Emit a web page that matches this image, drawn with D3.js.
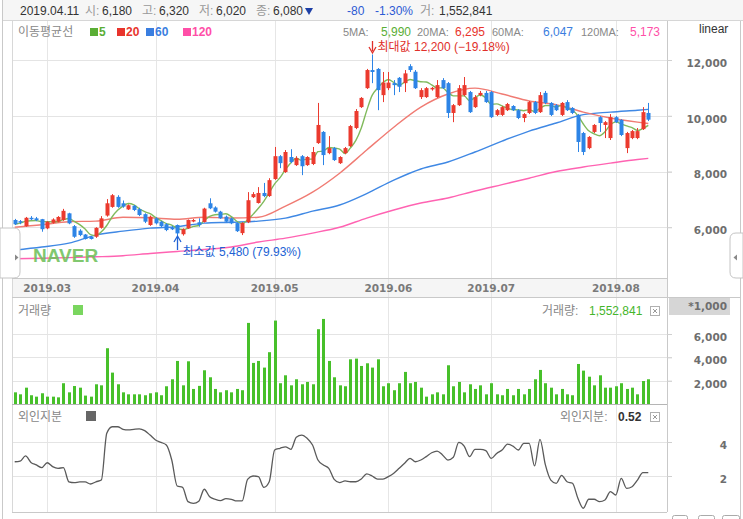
<!DOCTYPE html>
<html>
<head>
<meta charset="utf-8">
<script src="https://cdn.jsdelivr.net/npm/d3@7"></script>
<style>
body { margin: 0; background: #fff; }
svg { display: block; font-family: "Liberation Sans", "Noto Sans CJK KR", sans-serif; }
</style>
</head>
<body>
<svg id="chart" width="743" height="519"></svg>
<script>
// trading days shown on the chart, per month
const tradingDays = {
  "2019-02": [21, 22, 25, 26, 27, 28],
  "2019-03": [4, 5, 6, 7, 8, 11, 12, 13, 14, 15, 18, 19, 20, 21, 22, 25, 26, 27, 28, 29],
  "2019-04": [1, 2, 3, 4, 5, 8, 9, 10, 11, 12, 15, 16, 17, 18, 19, 22, 23, 24, 25, 26, 29, 30],
  "2019-05": [2, 3, 7, 8, 9, 10, 13, 14, 15, 16, 17, 20, 21, 22, 23, 24, 27, 28, 29, 30, 31],
  "2019-06": [3, 4, 5, 7, 10, 11, 12, 13, 14, 17, 18, 19, 20, 21, 24, 25, 26, 27, 28],
  "2019-07": [1, 2, 3, 4, 5, 8, 9, 10, 11, 12, 15, 16, 17, 18, 19, 22, 23, 24, 25, 26, 29, 30, 31],
  "2019-08": [1, 2, 5, 6, 7, 8, 9]
}
const dates = []
Object.entries(tradingDays).forEach(([m, days]) => days.forEach(d => dates.push(m + "-" + String(d).padStart(2, "0"))))

const open = [6260, 6220, 6040, 6340, 6320, 6290, 5960, 6160, 6200, 6260,
  6500, 6040, 5880, 5740, 5660, 5660, 5980, 6420, 6730, 7090,
  6860, 6640, 6770, 6650, 6470, 6080, 6320, 6200, 6110, 5980,
  6080, 5750, 5960, 6220, 6180, 6190, 6860, 6710, 6560, 6380,
  6320, 6150, 5790, 6180, 7080, 6870, 7230, 7120, 7730, 8550,
  7980, 8520, 8230, 8550, 8230, 8270, 9020, 9420, 8660, 8840,
  8300, 8660, 8910, 9560, 10310, 10990, 11640, 11680, 10740, 10990,
  11170, 11360, 11170, 11780, 11580, 10670, 10670, 10970, 10670, 11280,
  11170, 10100, 10380, 10740, 10850, 10310, 10740, 10820, 10850, 10030,
  10030, 10200, 10350, 10200, 9920, 10100, 10490, 10130, 10820, 10460,
  10380, 10030, 10490, 10280, 10030, 9380, 8840, 9420, 9950, 9670,
  9200, 9950, 9850, 8840, 9200, 9200, 9520, 10100]
const high = [6300, 6260, 6370, 6400, 6370, 6300, 6220, 6320, 6400, 6660,
  6520, 6080, 5930, 5760, 5690, 6000, 6400, 7010, 7190, 7150,
  6960, 6820, 6800, 6700, 6500, 6420, 6360, 6230, 6150, 6050,
  6100, 5960, 6280, 6300, 6320, 6700, 7040, 6750, 6590, 6420,
  6350, 6180, 6180, 7260, 7260, 7440, 7590, 7760, 8880, 8590,
  8770, 8800, 8550, 8590, 8550, 8880, 10460, 9450, 9270, 8880,
  8550, 8880, 9670, 10240, 10670, 11680, 12200, 11710, 11570, 11570,
  11280, 11390, 11640, 11850, 11640, 10990, 11030, 11030, 11280, 11350,
  11210, 10420, 11100, 11390, 10890, 10740, 10890, 10890, 10890, 10240,
  10350, 10460, 10380, 10240, 10100, 10530, 10530, 10850, 10890, 10490,
  10420, 10490, 10560, 10310, 10060, 9420, 9270, 9700, 9990, 9810,
  10060, 9990, 9880, 9420, 9490, 9560, 10310, 10460]
const low = [6080, 6110, 6020, 6260, 6220, 5840, 5930, 6130, 6180, 6230,
  6110, 5620, 5680, 5560, 5560, 5620, 5950, 6380, 6700, 6700,
  6700, 6620, 6580, 6400, 6150, 6050, 6100, 6000, 5860, 5900,
  5480, 5700, 5940, 6180, 6020, 6170, 6650, 6530, 6300, 6170,
  6110, 5830, 5720, 6150, 7050, 6850, 7080, 7090, 7700, 8120,
  7950, 8300, 8200, 7870, 8200, 8230, 8990, 8230, 8620, 8380,
  8270, 8620, 8880, 9520, 10280, 10960, 11170, 10200, 10490, 10920,
  10740, 10850, 10850, 11570, 10960, 10600, 10640, 10900, 10640, 10960,
  9920, 9770, 10350, 10700, 10100, 10280, 10700, 10460, 9920, 9990,
  9990, 10170, 10170, 9880, 9770, 10060, 10060, 10100, 10420, 9990,
  10170, 9990, 10170, 10060, 8700, 8590, 8800, 9380, 9420, 9200,
  9130, 9740, 9270, 8660, 9160, 9160, 9490, 9810]
const close = [6110, 6190, 6340, 6300, 6250, 5930, 6200, 6280, 6370, 6590,
  6140, 5660, 5720, 5580, 5580, 5980, 6320, 6860, 7150, 6730,
  6740, 6790, 6620, 6440, 6200, 6380, 6140, 6040, 5900, 5940,
  5780, 5930, 6260, 6260, 6080, 6670, 6680, 6560, 6320, 6200,
  6140, 5860, 6150, 6970, 7190, 7230, 7120, 7690, 8550, 8300,
  8700, 8340, 8480, 8190, 8520, 8700, 9670, 8590, 8840, 8410,
  8520, 8840, 9630, 10170, 10640, 11640, 11570, 10920, 11190, 11190,
  11100, 11040, 11520, 11640, 10990, 10920, 10990, 11000, 11100, 10990,
  10100, 10380, 10990, 11100, 10130, 10670, 10820, 10490, 9950, 10200,
  10310, 10420, 10200, 9920, 10060, 10490, 10100, 10740, 10460, 10030,
  10200, 10460, 10200, 10100, 9060, 8700, 9240, 9670, 9740, 9770,
  9950, 9770, 9310, 9380, 9450, 9450, 10130, 9860]

// volume in thousands of shares
const volume = [1000, 830, 1400, 750, 630, 920, 630, 630, 570, 1780,
  1000, 1540, 1400, 720, 630, 1690, 1600, 4780, 2690, 1690,
  1000, 830, 830, 830, 750, 920, 1000, 750, 1520, 2120,
  3690, 1600, 3660, 1290, 1553, 2890, 2290, 1290, 1000, 1180,
  1000, 1290, 1180, 6950, 3520, 3690, 3120, 4440, 7150, 1780,
  2460, 1600, 2120, 1690, 1890, 1690, 6410, 7290, 3690, 2290,
  1600, 1520, 3830, 3890, 3260, 3490, 3120, 3830, 1520, 1780,
  1180, 1780, 2750, 1780, 1890, 1400, 630, 830, 1000, 830,
  3320, 1520, 1890, 1000, 1690, 1290, 1600, 830, 1780, 830,
  750, 1290, 750, 1290, 830, 1290, 2120, 2920, 1780, 1400,
  830, 1290, 830, 750, 3430, 2860, 2340, 1600, 2460, 1400,
  1400, 1520, 1780, 1290, 1400, 830, 1970, 2120]

// foreign ownership (외인지분)
const foreign = [2.84, 2.88, 3.18, 2.80, 2.65, 2.49, 2.78, 2.55, 2.45, 2.49,
  1.66, 1.61, 1.65, 1.65, 1.53, 1.66, 1.76, 4.51, 4.90, 4.90,
  4.75, 4.71, 4.75, 4.78, 4.67, 4.41, 4.12, 3.98, 3.82, 2.94,
  1.41, 1.33, 0.49, 0.39, 0.52, 1.22, 0.78, 0.63, 0.55, 0.67,
  0.63, 0.53, 0.53, 1.80, 2.00, 1.96, 1.33, 1.66, 3.53, 3.63,
  3.72, 3.57, 4.28, 4.41, 4.22, 3.82, 2.94, 2.65, 2.45, 1.80,
  1.61, 1.71, 1.66, 1.66, 1.82, 2.12, 2.00, 1.82, 1.82, 1.96,
  2.16, 2.45, 2.75, 3.04, 2.84, 2.94, 3.14, 3.37, 3.47, 3.24,
  2.94, 3.10, 3.98, 3.76, 3.14, 3.57, 3.57, 3.49, 3.04, 3.33,
  3.53, 3.88, 3.76, 3.53, 3.92, 3.92, 2.59, 4.16, 2.65, 1.76,
  1.57, 2.04, 1.66, 1.57, 0.69, 0.10, 0.63, 0.63, 0.49, 0.59,
  1.08, 0.88, 1.86, 1.27, 1.37, 1.76, 2.20, 2.20]

// longer moving averages, read every 5 days
const maIndex = [0, 5, 10, 15, 20, 25, 30, 35, 40, 45, 50, 55, 60, 65, 70, 75, 80, 85, 90, 95, 100, 105, 110, 115, 117]
const ma20 = [6000, 6090, 6200, 6220, 6360, 6340, 6290, 6360, 6330, 6360, 6760, 7260, 7940, 8770, 9590, 10310, 10780, 10990, 10780, 10530, 10400, 10130, 9920, 9770, 9720]
const ma60 = [5180, 5290, 5430, 5720, 5860, 5970, 6020, 6150, 6180, 6220, 6330, 6580, 6800, 7210, 7690, 8090, 8340, 8700, 9090, 9450, 9740, 10040, 10130, 10200, 10230]
const ma120 = [4870, 4890, 4910, 4940, 4980, 5060, 5130, 5200, 5290, 5470, 5610, 5790, 6000, 6330, 6620, 6870, 7050, 7300, 7530, 7760, 8000, 8160, 8300, 8430, 8470]

const priceTicks = [6000, 8000, 10000, 12000]
const volumeTicks = [2000, 4000, 6000]
const foreignTicks = [2, 4]

// values shown for the hovered day 2019.04.11
const hoverDate = "2019.04.11"
const hoverLabels = ["시", "고", "저", "종"]
const hoverPrices = [6180, 6320, 6020, 6080]
const hoverChange = ["-80", "-1.30%"]
const hoverVolume = 1552841
const hoverForeign = 0.52
const maLegend = [["5MA:", 5990], ["20MA:", 6295], ["60MA:", 6047], ["120MA:", 5173]]
const maNames = ["5", "20", "60", "120"]
const maColors = ["#5aae35", "#e8342c", "#3a7ee0", "#ff4fa8"]
const maLineColors = ["#80ba5c", "#f07b73", "#3f88e4", "#ff63b2"]

const upColor = "#eb3a2e", downColor = "#2d84e6"
const fmt = d3.format(",")

const svg = d3.select("#chart")

const x = d3.scaleBand().domain(dates).range([12, 651])
const cx = i => x(dates[i]) + x.bandwidth() / 2
const yPrice = d3.scaleLinear().domain([4180, 13435]).range([278, 20])
const yVol = d3.scaleLinear().domain([0, 9170]).range([404, 297])
const yFor = d3.scaleLinear().domain([-0.12, 6.18]).range([512, 405])

const monthStarts = dates.map((d, i) => i).filter(i => i > 0 && dates[i].slice(0, 7) !== dates[i - 1].slice(0, 7))

// header bar
svg.append("rect").attr("x", 3).attr("y", 0).attr("width", 740).attr("height", 20).attr("fill", "#f6f6f6")
svg.append("line").attr("x1", 3).attr("x2", 743).attr("y1", 20.5).attr("y2", 20.5).attr("stroke", "#d6d6d6")

// x label band
svg.append("rect").attr("x", 12).attr("y", 279).attr("width", 655).attr("height", 18).attr("fill", "#f5f5f5")

// vertical month grid
svg.append("g").selectAll("line").data(monthStarts).join("line")
  .attr("x1", i => Math.round(cx(i)) + 0.5).attr("x2", i => Math.round(cx(i)) + 0.5)
  .attr("y1", 21).attr("y2", 512)
  .attr("stroke", "#e6e6e6")

// horizontal grids
function hgrid(ticks, scale) {
  svg.append("g").selectAll("line").data(ticks).join("line")
    .attr("x1", 12).attr("x2", 672)
    .attr("y1", d => Math.round(scale(d)) + 0.5).attr("y2", d => Math.round(scale(d)) + 0.5)
    .attr("stroke", "#e4e4e4")
}
hgrid(priceTicks, yPrice)
hgrid(volumeTicks, yVol)
hgrid(foreignTicks, yFor)

// panel borders
const border = "#c9c9c9"
svg.append("line").attr("x1", 2.5).attr("x2", 2.5).attr("y1", 0).attr("y2", 519).attr("stroke", border)
svg.append("line").attr("x1", 12.5).attr("x2", 12.5).attr("y1", 21).attr("y2", 512).attr("stroke", "#d8d8d8")
svg.append("line").attr("x1", 667.5).attr("x2", 667.5).attr("y1", 21).attr("y2", 512).attr("stroke", border)
svg.append("line").attr("x1", 740.5).attr("x2", 740.5).attr("y1", 21).attr("y2", 519).attr("stroke", border)
;[278.5, 297.5, 512.5].forEach(y => svg.append("line").attr("x1", 12).attr("x2", 667).attr("y1", y).attr("y2", y).attr("stroke", border))
svg.append("line").attr("x1", 667).attr("x2", 740).attr("y1", 297.5).attr("y2", 297.5).attr("stroke", border)
svg.append("line").attr("x1", 12).attr("x2", 667).attr("y1", 404.5).attr("y2", 404.5).attr("stroke", "#b5b5b5")

// month labels
svg.append("g").selectAll("text").data(monthStarts).join("text")
  .attr("x", i => cx(i)).attr("y", 292)
  .attr("text-anchor", "middle")
  .attr("font-family", "DejaVu Sans").attr("font-weight", "bold").attr("font-size", 10.5)
  .attr("fill", "#7a7a7a")
  .text(i => dates[i].slice(0, 7).replace("-", "."))

// right axes, labels sit a little under their grid line
function rightAxis(scale, ticks, format) {
  svg.append("g").attr("transform", "translate(667,0)")
    .call(d3.axisRight(scale).tickValues(ticks).tickFormat(format).tickSize(5))
    .call(g => g.select(".domain").remove())
    .call(g => g.selectAll("line").attr("stroke", "#d0d0d0"))
    .call(g => g.selectAll("text").attr("x", 60).attr("y", 3).attr("text-anchor", "end")
      .attr("font-family", "DejaVu Sans").attr("font-weight", "bold").attr("font-size", 10.5).attr("fill", "#6e6e6e"))
}
rightAxis(yPrice, priceTicks, fmt)
rightAxis(yVol, volumeTicks, fmt)
rightAxis(yFor, foreignTicks, d3.format("d"))

svg.append("text").attr("x", 699).attr("y", 33).attr("font-size", 12).attr("fill", "#333").text("linear")
svg.append("rect").attr("x", 669).attr("y", 298).attr("width", 61).attr("height", 17).attr("fill", "#d6d6d6")
svg.append("text").attr("x", 727).attr("y", 310).attr("text-anchor", "end")
  .attr("font-family", "DejaVu Sans").attr("font-weight", "bold").attr("font-size", 10.5).attr("fill", "#6e6e6e").text("*1,000")

// price panel clip
svg.append("clipPath").attr("id", "priceClip").append("rect").attr("x", 13).attr("y", 21).attr("width", 654).attr("height", 257)

// moving average lines
const ma5 = close.map((c, i) => d3.mean(close.slice(Math.max(0, i - 4), i + 1)))
const maSeries = [
  ma5.map((v, i) => [i, v]),
  maIndex.map((k, j) => [k, ma20[j]]),
  maIndex.map((k, j) => [k, ma60[j]]),
  maIndex.map((k, j) => [k, ma120[j]])
]
const maLine = d3.line().x(d => cx(d[0])).y(d => yPrice(d[1])).curve(d3.curveMonotoneX)
svg.append("g").attr("clip-path", "url(#priceClip)")
  .selectAll("path").data(maSeries.slice().reverse()).join("path")
  .attr("d", maLine)
  .attr("fill", "none")
  .attr("stroke", (d, i) => maLineColors[3 - i])
  .attr("stroke-width", 1.4)

// candles
const candles = svg.append("g").selectAll("g").data(dates.map((d, i) => i)).join("g")
candles.append("line")
  .attr("x1", i => Math.round(cx(i)) + 0.5).attr("x2", i => Math.round(cx(i)) + 0.5)
  .attr("y1", i => yPrice(high[i])).attr("y2", i => yPrice(low[i]))
  .attr("stroke", i => close[i] >= open[i] ? upColor : downColor)
candles.append("rect")
  .attr("x", i => Math.round(cx(i)) - 1.5)
  .attr("width", 4)
  .attr("y", i => yPrice(Math.max(open[i], close[i])))
  .attr("height", i => Math.max(1.5, Math.abs(yPrice(open[i]) - yPrice(close[i]))))
  .attr("fill", i => close[i] >= open[i] ? upColor : downColor)

// max / min annotations
const maxI = d3.maxIndex(high), minI = d3.minIndex(low)
const last = close[close.length - 1]
const pct = v => d3.format(".2f")((last / v - 1) * 100) + "%"
const mx = Math.round(cx(maxI)) + 0.5
svg.append("line").attr("x1", mx).attr("x2", mx).attr("y1", 41).attr("y2", 51).attr("stroke", "#e0302a").attr("stroke-width", 1.3)
svg.append("path").attr("d", `M${mx - 3.5},47 L${mx},53 L${mx + 3.5},47`).attr("fill", "none").attr("stroke", "#e0302a").attr("stroke-width", 1.3)
svg.append("text").attr("x", mx + 5).attr("y", 51).attr("font-size", 12).attr("fill", "#e0302a")
  .text(`최대값 ${fmt(high[maxI])} (${pct(high[maxI])})`)
const nx = Math.round(cx(minI)) + 0.5
svg.append("line").attr("x1", nx).attr("x2", nx).attr("y1", 237).attr("y2", 250).attr("stroke", "#2062d4").attr("stroke-width", 1.3)
svg.append("path").attr("d", `M${nx - 3.5},242 L${nx},236 L${nx + 3.5},242`).attr("fill", "none").attr("stroke", "#2062d4").attr("stroke-width", 1.3)
svg.append("text").attr("x", nx + 5).attr("y", 256).attr("font-size", 12).attr("fill", "#2062d4")
  .text(`최소값 ${fmt(low[minI])} (${pct(low[minI])})`)

// NAVER watermark
svg.append("text").attr("x", 33).attr("y", 262).attr("font-size", 19).attr("font-weight", "bold")
  .attr("fill", "#6cbf57").attr("opacity", 0.85).text("NAVER")

// side tabs
svg.append("path").attr("d", "M0,228 H14 Q20,228 20,234 V272 Q20,278 14,278 H0 Z").attr("fill", "#fff").attr("stroke", "#c4c4c4")
svg.append("path").attr("d", "M15,254.5 L18.5,257.5 L15,260.5 Z").attr("fill", "#888")
svg.append("path").attr("d", "M743,233 H736 Q730,233 730,239 V272 Q730,278 736,278 H743 Z").attr("fill", "#fff").attr("stroke", "#c4c4c4")
svg.append("path").attr("d", "M737,254.5 L733.5,257.5 L737,260.5 Z").attr("fill", "#888")

// volume bars
svg.append("g").selectAll("rect").data(volume).join("rect")
  .attr("x", (v, i) => Math.round(cx(i)) - 1)
  .attr("width", 3)
  .attr("y", v => yVol(v))
  .attr("height", v => yVol(0) - yVol(v))
  .attr("fill", "#47c02a")

// foreign ownership line
svg.append("path").datum(foreign)
  .attr("d", d3.line().x((v, i) => cx(i)).y(v => yFor(v)).curve(d3.curveMonotoneX))
  .attr("fill", "none").attr("stroke", "#5a5a5a").attr("stroke-width", 1.3)

// header text
const header = svg.append("g").attr("font-size", 12)
header.append("text").attr("x", 20).attr("y", 15).attr("fill", "#333").text(hoverDate)
const hx = [85, 142, 199, 256]
hoverLabels.forEach((l, k) => {
  header.append("text").attr("x", hx[k]).attr("y", 15).attr("fill", "#999").text(l + ":")
  header.append("text").attr("x", hx[k] + 17).attr("y", 15).attr("fill", "#333").text(fmt(hoverPrices[k]))
})
header.append("path").attr("d", "M305,8 L313,8 L309,15 Z").attr("fill", "#1d3fa6")
header.append("text").attr("x", 347).attr("y", 15).attr("fill", "#2d5ad4").text(hoverChange[0])
header.append("text").attr("x", 375).attr("y", 15).attr("fill", "#2d5ad4").text(hoverChange[1])
header.append("text").attr("x", 420).attr("y", 15).attr("fill", "#999").text("거:")
header.append("text").attr("x", 439).attr("y", 15).attr("fill", "#333").text(fmt(hoverVolume))

// moving average legend
svg.append("text").attr("x", 18).attr("y", 36).attr("font-size", 12).attr("fill", "#888").text("이동평균선")
const legX = [90, 117, 146, 183]
maNames.forEach((n, k) => {
  svg.append("rect").attr("x", legX[k]).attr("y", 28).attr("width", 8).attr("height", 8).attr("fill", maColors[k])
  svg.append("text").attr("x", legX[k] + 9).attr("y", 36).attr("font-size", 12).attr("font-weight", "bold").attr("fill", maColors[k]).text(n)
})
const mlX = [[343, 381], [417, 455], [492, 543], [581, 630]]
maLegend.forEach(([l, v], k) => {
  svg.append("text").attr("x", mlX[k][0]).attr("y", 36).attr("font-size", 11).attr("fill", "#888").text(l)
  svg.append("text").attr("x", mlX[k][1]).attr("y", 36).attr("font-size", 12).attr("fill", maColors[k]).text(fmt(v))
})

// sub-panel legends
function closeBox(y) {
  svg.append("rect").attr("x", 650.5).attr("y", y + 0.5).attr("width", 9).attr("height", 9).attr("fill", "#fff").attr("stroke", "#b0b0b0")
  svg.append("path").attr("d", `M653,${y + 3} L657,${y + 7} M657,${y + 3} L653,${y + 7}`).attr("stroke", "#999")
}
svg.append("text").attr("x", 18).attr("y", 315).attr("font-size", 12).attr("fill", "#888").text("거래량")
svg.append("rect").attr("x", 73).attr("y", 305).attr("width", 10).attr("height", 10).attr("fill", "#7ad65f")
svg.append("text").attr("x", 542).attr("y", 315).attr("font-size", 12).attr("fill", "#888").text("거래량:")
svg.append("text").attr("x", 589).attr("y", 315).attr("font-size", 12).attr("fill", "#45b52a").text(fmt(hoverVolume))
closeBox(306)
svg.append("text").attr("x", 18).attr("y", 421).attr("font-size", 12).attr("fill", "#888").text("외인지분")
svg.append("rect").attr("x", 86).attr("y", 411).attr("width", 10).attr("height", 10).attr("fill", "#666")
svg.append("text").attr("x", 560).attr("y", 421).attr("font-size", 12).attr("fill", "#888").text("외인지분:")
svg.append("text").attr("x", 618).attr("y", 421).attr("font-size", 12).attr("font-weight", "bold").attr("fill", "#333").text(hoverForeign)
closeBox(412)

// bottom buttons
;[[672, 15], [698, 16], [722, 17]].forEach(([bx, bw]) => {
  svg.append("rect").attr("x", bx + 0.5).attr("y", 515.5).attr("width", bw).attr("height", 10).attr("rx", 2).attr("fill", "#fff").attr("stroke", "#aaa")
})
</script>
</body>
</html>
